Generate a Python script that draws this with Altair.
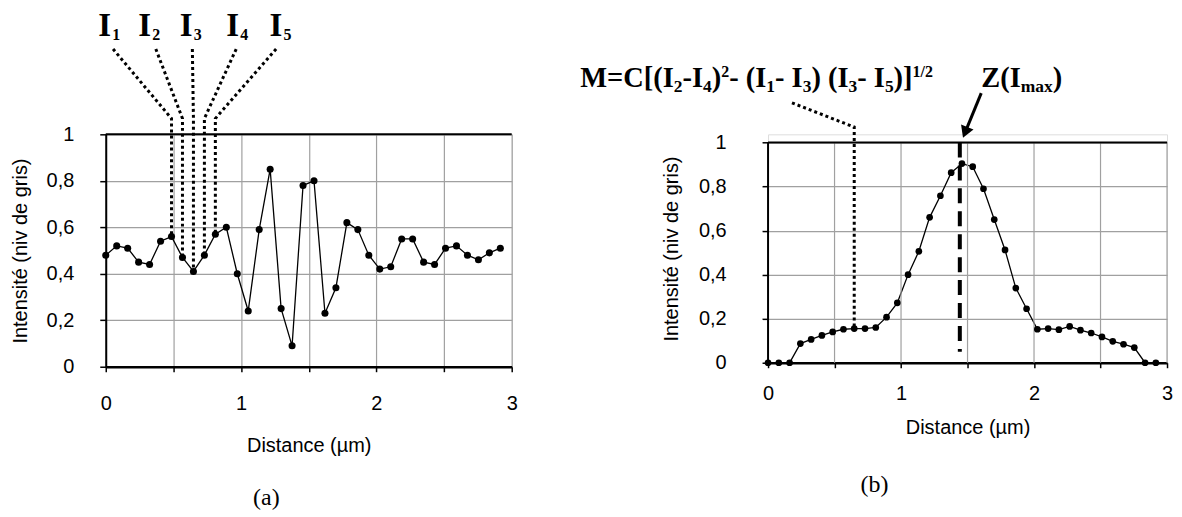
import altair as alt
import pandas as pd

# ---------------- data ----------------
STEP_UM = 0.081
intensity_a = [0.48, 0.52, 0.51, 0.45, 0.44, 0.54, 0.56, 0.47, 0.41, 0.48,
               0.57, 0.60, 0.40, 0.24, 0.59, 0.85, 0.25, 0.09, 0.78, 0.80,
               0.23, 0.34, 0.62, 0.59, 0.48, 0.42, 0.43, 0.55, 0.55, 0.45,
               0.44, 0.51, 0.52, 0.48, 0.46, 0.49, 0.51]
intensity_b = [0, 0, 0, 0.087, 0.106, 0.124, 0.14, 0.152, 0.155, 0.155,
               0.16, 0.207, 0.272, 0.40, 0.506, 0.66, 0.758, 0.863, 0.904, 0.89,
               0.79, 0.65, 0.512, 0.339, 0.245, 0.152, 0.155, 0.15, 0.165, 0.148,
               0.135, 0.117, 0.097, 0.084, 0.069, 0, 0]
x_grid = [0, 0.5, 1, 1.5, 2, 2.5, 3]
y_grid = [0, 0.2, 0.4, 0.6, 0.8, 1]
x_title = "Distance (µm)"
y_title = "Intensité (niv de gris)"

# panel (a) annotations (data units)
probe_index_a = [6, 7, 8, 9, 10]
probe_sub_a = ["1", "2", "3", "4", "5"]
probe_label_x_a = [-0.055, 0.24, 0.547, 0.89, 1.21]
probe_label_y_a = 1.421
probe_top_x_a = [0.054, 0.37, 0.64, 0.964, 1.259]
probe_top_y_a = 1.367
probe_bend_y_a = 1.068
tag_a = ("(a)", 1.187, -0.567)

# panel (b) annotations (data units)
probe_index_b = 8
probe_end_b = (0.18, 1.18)
probe_bend_y_b = 1.07
zmax_x_b = 1.442
zmax_y_b = (1.0, 0.05)
formula_parts = [("M=C[(I", "main"), ("2", "sub"), ("-I", "main"), ("4", "sub"),
                 (")", "main"), ("2", "sup"), ("- (I", "main"), ("1", "sub"),
                 ("- I", "main"), ("3", "sub"), (") (I", "main"), ("3", "sub"),
                 ("- I", "main"), ("5", "sub"), (")]", "main"), ("1/2", "sup")]
formula_x_b = -1.412
formula_y_b = 1.251
zlabel_parts = [("Z(I", "main"), ("max", "sub"), (")", "main")]
zlabel_x_b = 1.603
arrow_from_b = (1.603, 1.224)
arrow_head_b = (1.482, 1.046)
tag_b = ("(b)", 0.801, -0.554)

# ---------------- style ----------------
SANS = "Liberation Sans"
SERIF = "Liberation Serif"
GRID = "#a0a0a0"
W_A, H_A = 407, 233
W_B, H_B = 400, 229
YMAX_B = 1.037
SIZES = {"main": 28.5, "sub": 17.5, "sup": 16}
DY = {"main": 0, "sub": 5, "sup": -10}
TIMES_BOLD = {"M": 0.944, "=": 0.570, "C": 0.722, "[": 0.333, "(": 0.333, "I": 0.389,
              "-": 0.333, " ": 0.25, ")": 0.333, "]": 0.333, "/": 0.278, "Z": 0.667,
              "m": 0.833, "a": 0.5, "x": 0.5}


def glyph_w(ch):
    return 0.5 if ch.isdigit() else TIMES_BOLD.get(ch, 0.5)


def rich_rows(parts, x0, y0, px_per_unit):
    rows, off = [], 0.0
    for txt, kind in parts:
        rows.append({"x": x0 + off / px_per_unit, "y": y0, "t": txt, "kind": kind})
        off += sum(glyph_w(c) for c in txt) * SIZES[kind]
    return pd.DataFrame(rows)


def rich_layers(df):
    out = []
    for kind in ["main", "sub", "sup"]:
        sub = df[df["kind"] == kind]
        out.append(alt.Chart(sub).mark_text(font=SERIF, fontWeight="bold", fontSize=SIZES[kind],
                                            align="left", baseline="alphabetic", dy=DY[kind],
                                            color="black")
                   .encode(x="x:Q", y="y:Q", text="t:N"))
    return out


def x_axis(label_pad, title_pad, grid):
    return alt.Axis(values=x_grid, grid=grid, gridColor=GRID, gridWidth=1.2,
                    format="~g", labelExpr="datum.value % 1 == 0 ? datum.label : ''",
                    domainColor="black", domainWidth=2.5, tickColor="black", tickSize=5,
                    tickWidth=1.5, labelFont=SANS, labelFontSize=20, labelColor="black",
                    labelPadding=label_pad, labelFlush=False, title=x_title, titleFont=SANS,
                    titleFontSize=20, titleFontWeight="normal", titleColor="black",
                    titlePadding=title_pad)


def y_axis(label_pad, title_pad, domain):
    return alt.Axis(values=y_grid, grid=True, gridColor=GRID, gridWidth=1.2,
                    format="~g", labelExpr="replace(datum.label, '.', ',')",
                    domain=domain, domainColor="black", domainWidth=2,
                    tickColor="black", tickSize=6, tickWidth=1.5, labelFont=SANS,
                    labelFontSize=20, labelColor="black", labelPadding=label_pad,
                    labelFlush=False, title=y_title, titleFont=SANS, titleFontSize=20,
                    titleFontWeight="normal", titleColor="black", titlePadding=title_pad)


# ---------------- panel (a) ----------------
df_a = pd.DataFrame({"x": [i * STEP_UM for i in range(len(intensity_a))], "y": intensity_a})
xs_a = alt.Scale(domain=[0, 3], nice=False, zero=False)
ys_a = alt.Scale(domain=[0, 1], nice=False)

lead_rows = []
for k, idx in enumerate(probe_index_a):
    lead_rows += [{"id": k, "o": 0, "x": probe_top_x_a[k], "y": probe_top_y_a},
                  {"id": k, "o": 1, "x": idx * STEP_UM, "y": probe_bend_y_a},
                  {"id": k, "o": 2, "x": idx * STEP_UM, "y": intensity_a[idx]}]
lead_a = pd.DataFrame(lead_rows)

base_a = alt.Chart(df_a).mark_line(color="black", strokeWidth=1.3).encode(
    x=alt.X("x:Q", scale=xs_a, axis=x_axis(22, 22, True)),
    y=alt.Y("y:Q", scale=ys_a, axis=y_axis(26, 16, True)))
top_a = alt.Chart(pd.DataFrame({"y": [1]})).mark_rule(color="black", strokeWidth=2).encode(y="y:Q")
leaders_a = alt.Chart(lead_a).mark_line(color="black", strokeWidth=3, strokeDash=[3, 3]).encode(
    x="x:Q", y="y:Q", detail="id:N", order="o:Q")
pts_a = alt.Chart(df_a).mark_circle(color="black", size=50, opacity=1).encode(x="x:Q", y="y:Q")
lab_df_a = pd.DataFrame({"x": probe_label_x_a, "y": [probe_label_y_a] * 5,
                         "t": ["I"] * 5, "s": probe_sub_a})
labI_a = alt.Chart(lab_df_a).mark_text(font=SERIF, fontWeight="bold", fontSize=33, align="left",
                                       baseline="alphabetic", color="black").encode(
    x="x:Q", y="y:Q", text="t:N")
labS_a = alt.Chart(lab_df_a).mark_text(font=SERIF, fontWeight="bold", fontSize=16, align="left",
                                       baseline="alphabetic", dx=14, dy=4, color="black").encode(
    x="x:Q", y="y:Q", text="s:N")
tag_df_a = pd.DataFrame({"x": [tag_a[1]], "y": [tag_a[2]], "t": [tag_a[0]]})
tagm_a = alt.Chart(tag_df_a).mark_text(font=SERIF, fontSize=24, align="center", baseline="middle",
                                       color="black").encode(x="x:Q", y="y:Q", text="t:N")

panel_a = alt.layer(base_a, top_a, leaders_a, pts_a, labI_a, labS_a, tagm_a).properties(
    width=W_A, height=H_A)

# ---------------- panel (b) ----------------
df_b = pd.DataFrame({"x": [i * STEP_UM for i in range(len(intensity_b))], "y": intensity_b})
xs_b = alt.Scale(domain=[0, 3], nice=False, zero=False)
ys_b = alt.Scale(domain=[0, YMAX_B], nice=False)
pxu_b = W_B / 3.0

vgrid_b = alt.Chart(pd.DataFrame({"x": x_grid[1:], "y": [0] * 6, "y2": [1] * 6})).mark_rule(
    color=GRID, strokeWidth=1.2).encode(x="x:Q", y="y:Q", y2="y2:Q")
base_b = alt.Chart(df_b).mark_line(color="black", strokeWidth=1.3).encode(
    x=alt.X("x:Q", scale=xs_b, axis=x_axis(16, 14, False)),
    y=alt.Y("y:Q", scale=ys_b, axis=y_axis(36, 17, False)))
left_b = alt.Chart(pd.DataFrame({"x": [0], "y": [0], "y2": [1]})).mark_rule(
    color="black", strokeWidth=2).encode(x="x:Q", y="y:Q", y2="y2:Q")
top_b = alt.Chart(pd.DataFrame({"y": [1]})).mark_rule(color="black", strokeWidth=2).encode(y="y:Q")
px_b = probe_index_b * STEP_UM
lead_b = pd.DataFrame({"o": [0, 1, 2],
                       "x": [probe_end_b[0], px_b, px_b],
                       "y": [probe_end_b[1], probe_bend_y_b, intensity_b[probe_index_b]]})
leader_b = alt.Chart(lead_b).mark_line(color="black", strokeWidth=3, strokeDash=[3, 3]).encode(
    x="x:Q", y="y:Q", order="o:Q")
zline_b = alt.Chart(pd.DataFrame({"x": [zmax_x_b], "y": [zmax_y_b[0]], "y2": [zmax_y_b[1]]})).mark_rule(
    color="black", strokeWidth=4, strokeDash=[15, 8]).encode(x="x:Q", y="y:Q", y2="y2:Q")
pts_b = alt.Chart(df_b).mark_circle(color="black", size=45, opacity=1).encode(x="x:Q", y="y:Q")
arrow_b = alt.Chart(pd.DataFrame({"o": [0, 1], "x": [arrow_from_b[0], arrow_head_b[0]],
                                  "y": [arrow_from_b[1], arrow_head_b[1]]})).mark_line(
    color="black", strokeWidth=3).encode(x="x:Q", y="y:Q", order="o:Q")
head_b = alt.Chart(pd.DataFrame({"x": [arrow_head_b[0]], "y": [arrow_head_b[1]]})).mark_point(
    shape="triangle-down", filled=True, size=180, angle=21.8, color="black", opacity=1).encode(
    x="x:Q", y="y:Q")
formula_df = rich_rows(formula_parts, formula_x_b, formula_y_b, pxu_b)
zlabel_df = rich_rows(zlabel_parts, zlabel_x_b, formula_y_b, pxu_b)
tag_df_b = pd.DataFrame({"x": [tag_b[1]], "y": [tag_b[2]], "t": [tag_b[0]]})
tagm_b = alt.Chart(tag_df_b).mark_text(font=SERIF, fontSize=24, align="center", baseline="middle",
                                       color="black").encode(x="x:Q", y="y:Q", text="t:N")

panel_b = alt.layer(base_b, vgrid_b, left_b, top_b, leader_b, zline_b, pts_b, arrow_b, head_b,
                    *rich_layers(formula_df), *rich_layers(zlabel_df), tagm_b).properties(
    width=W_B, height=H_B)

chart = alt.hconcat(panel_a, panel_b, spacing=257, bounds="flush").properties(
    padding={"left": 1, "top": 1, "right": 0, "bottom": 0}
).configure_view(stroke="transparent").configure(background="white")

chart.save("out.html", embed_options={"renderer": "svg", "actions": False})
